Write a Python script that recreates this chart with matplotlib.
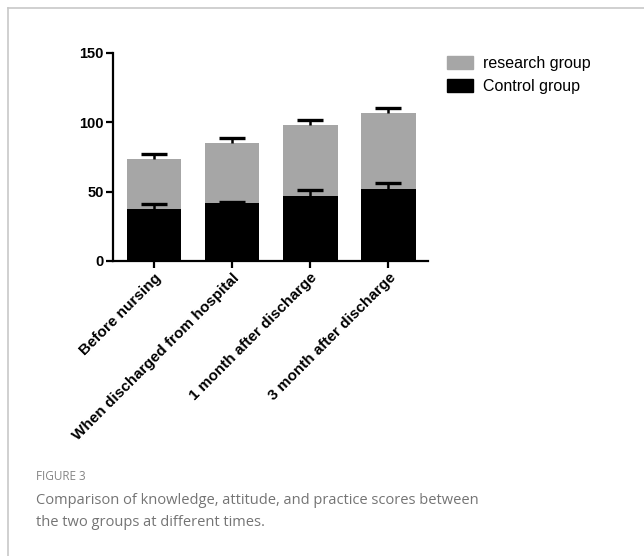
import matplotlib.pyplot as plt
from matplotlib.lines import Line2D
from matplotlib.patches import Patch

plt.rcParams['font.family'] = ['Liberation Sans', 'DejaVu Sans']

categories = ['Before nursing', 'When discharged from hospital',
              '1 month after discharge', '3 month after discharge']
control = [37.5, 41.5, 47.0, 51.5]
control_err = [3.3, 1.2, 3.8, 4.5]
research = [36.0, 43.3, 51.0, 55.2]
research_err = [3.6, 3.5, 3.5, 3.3]

gray = '#a6a6a6'

fig = plt.figure(figsize=(6.44, 5.56), dpi=100)
ax = fig.add_axes([0.176, 0.5306, 0.489, 0.3746])

x = list(range(len(categories)))
totals = [c + r for c, r in zip(control, research)]
ax.bar(x, control, width=0.7, color='black', zorder=2)
ax.bar(x, research, bottom=control, width=0.7, color=gray, zorder=2)

def upper_err(xs, ys, errs):
    # one-sided (upward) error bars, hide the lower cap
    eb = ax.errorbar(xs, ys, yerr=[[0] * len(ys), errs], fmt='none', ecolor='black',
                     elinewidth=1.8, capsize=9.4, capthick=2.4, zorder=3)
    eb[1][0].set_visible(False)

upper_err(x, control, control_err)
upper_err(x, totals, research_err)

ax.set_xlim(-0.52, 3.51)
ax.set_ylim(0, 150)
ax.set_yticks([0, 50, 100, 150])
ax.set_xticks(x)
ax.set_xticklabels(categories, rotation=45, ha='right', rotation_mode='anchor',
                   fontsize=11, fontweight='bold')
for lab in ax.get_yticklabels():
    lab.set_fontsize(10.5)
    lab.set_fontweight('bold')
ax.spines['top'].set_visible(False)
ax.spines['right'].set_visible(False)
for s in ['left', 'bottom']:
    ax.spines[s].set_linewidth(1.6)
ax.tick_params(width=1.6, length=5, pad=2)

handles = [Patch(color=gray), Patch(color='black')]
fig.legend(handles, ['research group', 'Control group'], loc='upper left',
           bbox_to_anchor=(447 / 644, 1 - 56 / 556), frameon=False,
           fontsize=11.5, handlelength=1.63, handleheight=0.83,
           handletextpad=0.63, labelspacing=0.5, borderpad=0, borderaxespad=0)

# figure frame (top and left edges)
fig.add_artist(Line2D([8 / 644, 1], [1 - 8 / 556, 1 - 8 / 556], color='#c8c8c8', lw=1.2))
fig.add_artist(Line2D([8 / 644, 8 / 644], [0, 1 - 8 / 556], color='#c8c8c8', lw=1.2))

fig.text(36 / 644, 1 - 477 / 556, 'FIGURE 3', fontsize=8.5, color='#858585',
         family='Open Sans', va='center')
fig.text(36 / 644, 1 - 500 / 556,
         'Comparison of knowledge, attitude, and practice scores between',
         fontsize=10.5, color='#747474', family='Open Sans', va='center')
fig.text(36 / 644, 1 - 523 / 556, 'the two groups at different times.',
         fontsize=10.5, color='#747474', family='Open Sans', va='center')

fig.savefig('out.png', dpi=100)
